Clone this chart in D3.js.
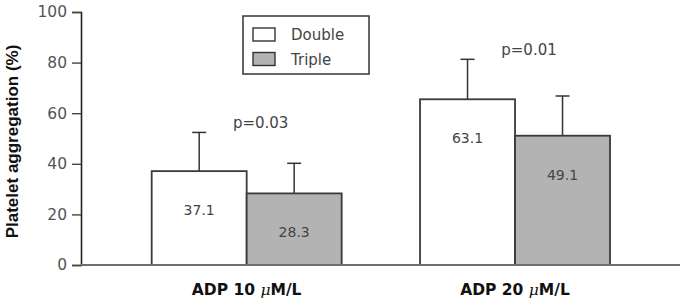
<!DOCTYPE html>
<html>
<head>
<meta charset="utf-8">
<script src="https://cdn.jsdelivr.net/npm/d3@7"></script>
<style>
  html, body { margin: 0; padding: 0; background: #fff; }
  svg { display: block; }
</style>
</head>
<body>
<svg id="chart" width="687" height="300"></svg>
<script>
// ---- data ----
const groups = ["ADP 10", "ADP 20"];
const series = ["Double", "Triple"];
// bar heights as drawn in the figure (%)
const doubleValues = [37.1, 65.5];
const tripleValues = [28.3, 51.1];
// upper end of the error bars (%)
const doubleErrTop = [52.4, 81.3];
const tripleErrTop = [40.2, 66.8];
// printed value labels
const doubleLabels = ["37.1", "63.1"];
const tripleLabels = ["28.3", "49.1"];
const pValues = ["p=0.03", "p=0.01"];
const yTicks = [0, 20, 40, 60, 80, 100];
const yTitle = "Platelet aggregation (%)";

// ---- drawing ----
const svg = d3.select("#chart");
const fills = { Double: "#ffffff", Triple: "#b3b3b3" };
const textFont = "'DejaVu Sans', sans-serif";

const y = d3.scaleLinear().domain([0, 100]).range([265, 12]);
const x0 = d3.scaleBand().domain(groups).range([112.5, 649.2])
  .paddingInner(0.292).paddingOuter(0.146);
const x1 = d3.scaleBand().domain(series).range([0, x0.bandwidth()]);

const rows = groups.map((g, i) => ({
  group: g,
  bars: [
    { s: "Double", v: doubleValues[i], e: doubleErrTop[i], lab: doubleLabels[i] },
    { s: "Triple", v: tripleValues[i], e: tripleErrTop[i], lab: tripleLabels[i] }
  ],
  p: pValues[i]
}));

// y axis
const yAxis = svg.append("g").attr("transform", "translate(81,0)")
  .call(d3.axisLeft(y).tickValues(yTicks).tickSize(9).tickPadding(5));
yAxis.select(".domain").attr("stroke", "#222").attr("stroke-width", 1.6);
yAxis.selectAll(".tick line").attr("stroke", "#444").attr("stroke-width", 1.4);
yAxis.selectAll(".tick text").attr("fill", "#555")
  .style("font-family", textFont).style("font-size", "15.5px");

// error bars (drawn first so bar top covers the stem base)
const g = svg.selectAll(".grp").data(rows).enter().append("g")
  .attr("class", "grp").attr("transform", d => `translate(${x0(d.group)},0)`);

const eb = g.selectAll(".err").data(d => d.bars).enter().append("g").attr("class", "err");
eb.append("line")
  .attr("x1", d => x1(d.s) + x1.bandwidth() / 2)
  .attr("x2", d => x1(d.s) + x1.bandwidth() / 2)
  .attr("y1", d => y(d.v)).attr("y2", d => y(d.e))
  .attr("stroke", "#333").attr("stroke-width", 1.5);
eb.append("line")
  .attr("x1", d => x1(d.s) + x1.bandwidth() / 2 - 7)
  .attr("x2", d => x1(d.s) + x1.bandwidth() / 2 + 7)
  .attr("y1", d => y(d.e)).attr("y2", d => y(d.e))
  .attr("stroke", "#333").attr("stroke-width", 1.5);

// bars
g.selectAll(".bar").data(d => d.bars).enter().append("rect")
  .attr("class", "bar")
  .attr("x", d => x1(d.s))
  .attr("y", d => y(d.v))
  .attr("width", x1.bandwidth())
  .attr("height", d => y(0) - y(d.v))
  .attr("fill", d => fills[d.s])
  .attr("stroke", "#3a3a3a").attr("stroke-width", 1.8);

// bar value labels
g.selectAll(".vlab").data(d => d.bars).enter().append("text")
  .attr("x", d => x1(d.s) + x1.bandwidth() / 2)
  .attr("y", d => y(d.v) + 44)
  .attr("text-anchor", "middle")
  .attr("fill", "#444")
  .style("font-family", textFont).style("font-size", "14px")
  .text(d => d.lab);

// p values
g.append("text")
  .attr("x", x0.bandwidth() / 2 + 14)
  .attr("y", d => y(d3.max(d.bars, b => b.e)) - 4)
  .attr("text-anchor", "middle")
  .attr("fill", "#444")
  .style("font-family", textFont).style("font-size", "15px")
  .text(d => d.p);

// category labels
const cl = g.append("text")
  .attr("x", x0.bandwidth() / 2)
  .attr("y", 295)
  .attr("text-anchor", "middle")
  .attr("fill", "#111")
  .style("font-family", "'DejaVu Sans', sans-serif")
  .style("font-weight", "bold").style("font-size", "15.5px");
cl.append("tspan").text(d => d.group + " ");
cl.append("tspan").style("font-style", "italic").style("font-weight", "normal")
  .style("font-family", "'DejaVu Serif', serif").text("μ");
cl.append("tspan").text("M/L");

// x baseline
svg.append("line")
  .attr("x1", 81).attr("x2", 680).attr("y1", y(0)).attr("y2", y(0))
  .attr("stroke", "#6e6e6e").attr("stroke-width", 2);

// y title
svg.append("text")
  .attr("transform", `translate(18,${(y(0) + y(100)) / 2 + 3}) rotate(-90)`)
  .attr("text-anchor", "middle")
  .attr("fill", "#111")
  .style("font-family", "'Liberation Sans', Arial, sans-serif")
  .style("font-weight", "bold").style("font-size", "17px")
  .text(yTitle);

// legend
const lg = svg.append("g").attr("transform", "translate(243,16)");
lg.append("rect").attr("width", 126).attr("height", 58)
  .attr("fill", "#fff").attr("stroke", "#333").attr("stroke-width", 1.5);
const li = lg.selectAll(".li").data(series).enter().append("g")
  .attr("transform", (d, i) => `translate(10,${12 + i * 24.5})`);
li.append("rect").attr("width", 22).attr("height", 13)
  .attr("fill", d => fills[d]).attr("stroke", "#333").attr("stroke-width", 1.4);
li.append("text").attr("x", 38).attr("y", 12)
  .attr("fill", "#444")
  .style("font-family", textFont).style("font-size", "15px")
  .text(d => d);
</script>
</body>
</html>
